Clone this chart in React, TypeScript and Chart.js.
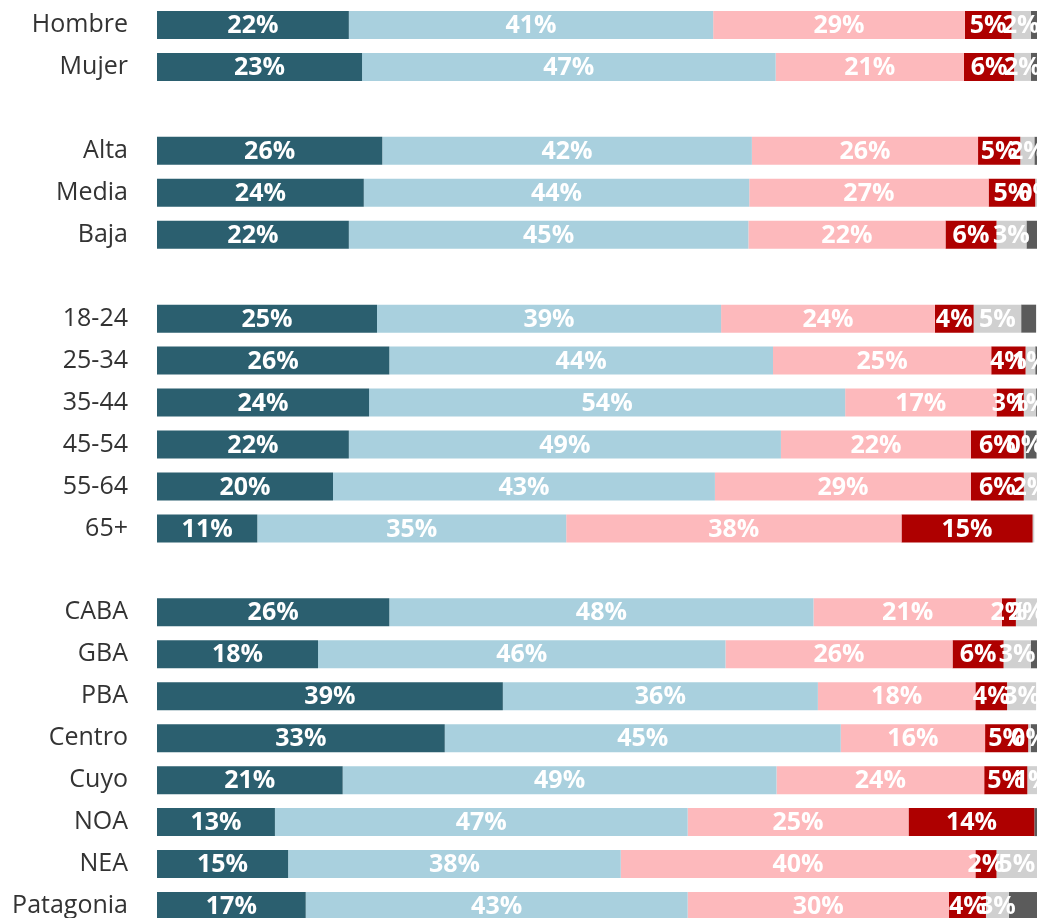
import React, { useEffect, useRef } from "react";
import { Chart, registerables } from "chart.js";

Chart.register(...registerables);

const categories = [
  "Hombre", "Mujer", "",
  "Alta", "Media", "Baja", "",
  "18-24", "25-34", "35-44", "45-54", "55-64", "65+", "",
  "CABA", "GBA", "PBA", "Centro", "Cuyo", "NOA", "NEA", "Patagonia",
];

const seriesA = [21.8, 23.3, null, 25.6, 23.5, 21.8, null, 25.0, 26.4, 24.1, 21.8, 20.0, 11.4, null, 26.4, 18.3, 39.3, 32.7, 21.1, 13.4, 14.9, 16.9];
const seriesB = [41.4, 47.0, null, 42.0, 43.8, 45.4, null, 39.1, 43.6, 54.1, 49.1, 43.4, 35.1, null, 48.2, 46.3, 35.8, 45.0, 49.3, 46.9, 37.8, 43.4];
const seriesC = [28.6, 21.4, null, 25.7, 27.2, 22.4, null, 24.3, 24.8, 17.2, 21.6, 29.1, 38.1, null, 21.4, 25.8, 17.9, 16.4, 23.6, 25.1, 40.3, 29.7];
const seriesD = [5.3, 5.7, null, 4.8, 5.3, 5.8, null, 4.4, 3.9, 3.1, 6.0, 6.0, 14.9, null, 1.6, 5.8, 3.6, 4.9, 4.9, 14.3, 2.4, 4.2];
const seriesE = [2.2, 1.9, null, 1.6, 0.3, 3.4, null, 5.4, 1.1, 1.4, 0.25, 1.6, 0.19, null, 2.4, 3.1, 3.3, 0.3, 1.1, 0, 4.6, 2.6];
const seriesF = [0.8, 0.7, null, 0.3, 0.2, 1.2, null, 1.7, 0.2, 0.2, 1.2, 0, 0, null, 0, 0.7, 0, 0.8, 0, 0.3, 0, 3.2];

const seriesColors = ["#2b5f6f", "#a9d0de", "#fdb9bc", "#ae0000", "#d0d0d0", "#5b5b5b"];
const labelledSeries = 5;

const FONT = "'Open Sans', 'Noto Sans', sans-serif";

const labelPlugin = {
  id: "segLabels",
  afterDatasetsDraw(chart: any) {
    const ctx = chart.ctx;
    ctx.save();
    ctx.font = `bold 25px ${FONT}`;
    ctx.fillStyle = "#ffffff";
    ctx.textAlign = "center";
    ctx.textBaseline = "middle";
    chart.data.datasets.forEach((ds: any, di: number) => {
      if (di >= labelledSeries) return;
      const meta = chart.getDatasetMeta(di);
      meta.data.forEach((el: any, i: number) => {
        const v = ds.data[i];
        if (v === null || v === undefined || v < 0.2) return;
        const { x, y, base } = el.getProps(["x", "y", "base"], true);
        ctx.fillText(`${Math.round(v)}%`, (x + base) / 2, y + 1);
      });
    });
    ctx.restore();
  },
};

export default function App() {
  const ref = useRef<HTMLCanvasElement | null>(null);

  useEffect(() => {
    if (!ref.current) return;
    document.documentElement.style.overflow = "hidden";
    const series = [seriesA, seriesB, seriesC, seriesD, seriesE, seriesF];
    const chart = new Chart(ref.current, {
      type: "bar",
      data: {
        labels: categories,
        datasets: series.map((d, i) => ({
          label: `S${i + 1}`,
          data: d,
          backgroundColor: seriesColors[i],
          borderWidth: 0,
          categoryPercentage: 1,
          barPercentage: 0.667,
        })),
      },
      options: {
        indexAxis: "y",
        responsive: false,
        animation: false,
        layout: { padding: { top: 15, bottom: 10, left: 0, right: 31 } },
        plugins: {
          legend: { display: false },
          tooltip: { enabled: false },
        },
        scales: {
          x: {
            stacked: true,
            min: 0,
            max: 100,
            display: false,
          },
          y: {
            stacked: true,
            grid: { display: false, drawTicks: false },
            border: { display: false },
            ticks: {
              padding: 29,
              color: "#333333",
              font: { family: FONT, size: 25 },
              autoSkip: false,
            },
            afterFit(scale: any) {
              scale.width = 149;
              scale.paddingTop = 0;
              scale.paddingBottom = 0;
              scale.paddingLeft = 0;
              scale.paddingRight = 0;
            },
          },
        },
      },
      plugins: [labelPlugin],
    });
    return () => chart.destroy();
  }, []);

  return (
    <canvas
      ref={ref}
      width={1060}
      height={948}
      style={{ position: "fixed", left: 8, top: -11 }}
    />
  );
}
